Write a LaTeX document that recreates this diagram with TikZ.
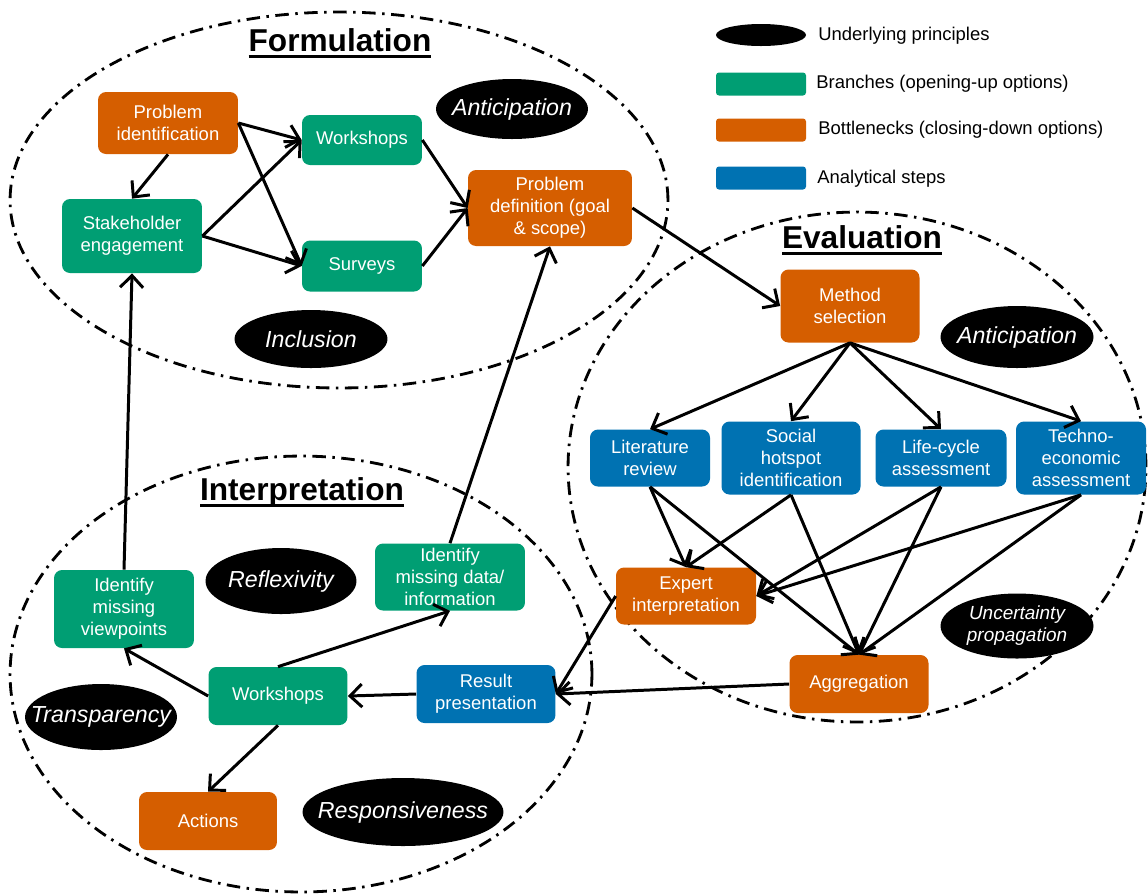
\documentclass[tikz,border=0pt]{standalone}
\usepackage{fontspec}
\setmainfont{Liberation Sans}
\usetikzlibrary{arrows.meta,shapes.geometric}
\definecolor{brgreen}{HTML}{009E73}
\definecolor{bnorange}{HTML}{D55E00}
\definecolor{anblue}{HTML}{0072B2}
\newcommand{\nodefont}{\fontsize{10.5}{12.5}\selectfont}
\newcommand{\prinfont}{\fontsize{13.2}{15}\selectfont\itshape}
\newcommand{\smallprinfont}{\fontsize{10.8}{12.6}\selectfont\itshape}
\newcommand{\titlefont}{\fontsize{18}{20}\selectfont\bfseries}
% thick underline for the phase titles
\newcommand{\thickul}[1]{\setbox0\hbox{#1}\rlap{\rule[-3.6pt]{\wd0}{1.4pt}}\box0}
% text that does not widen its ellipse
\newcommand{\zw}[1]{\makebox[0pt]{#1}}
\tikzset{
  box/.style={rounded corners=0.16cm, text=white, align=center, font=\nodefont, inner sep=1pt},
  gbox/.style={box, fill=brgreen},
  obox/.style={box, fill=bnorange},
  bbox/.style={box, fill=anblue},
  prin/.style={ellipse, fill=black, text=white, font=\prinfont, inner sep=0pt, align=center},
  phase/.style={line width=1.6pt, dash pattern=on 2.7mm off 1.3mm on 0.5mm off 1.3mm},
  link/.style={line width=1.7pt, -{Straight Barb[length=2.4mm,width=4.6mm]}},
  legbox/.style={rounded corners=0.06cm, minimum width=1.8cm, minimum height=0.46cm, inner sep=0pt},
  legtext/.style={anchor=west, font=\nodefont, inner sep=0pt},
  title/.style={font=\titlefont, inner sep=1pt}
}
\begin{document}
\begin{tikzpicture}[x=0.02cm, y=-0.02cm]
\useasboundingbox (0,0) rectangle (1148,894);

% phase boundaries
\draw[phase] (339,200) ellipse [x radius=6.58cm, y radius=3.76cm];
\draw[phase] (857,467) ellipse [x radius=5.78cm, y radius=5.1cm];
\draw[phase] (301,674) ellipse [x radius=5.82cm, y radius=4.36cm];

% titles
\node[title] (tform) at (340,43) {\thickul{Formulation}};
\node[title] (teval) at (862,240) {\thickul{Evaluation}};
\node[title] (tint) at (302,492) {\thickul{Interpretation}};

% Formulation
\node[obox, minimum width=2.8cm, minimum height=1.24cm] (pid) at (168,123) {Problem\\identification};
\node[gbox, minimum width=2.8cm, minimum height=1.48cm] (stk) at (132,236) {Stakeholder\\engagement};
\node[gbox, minimum width=2.4cm, minimum height=1.0cm] (wsf) at (362,140) {Workshops};
\node[gbox, minimum width=2.4cm, minimum height=1.02cm] (sur) at (362,266) {Surveys};
\node[obox, minimum width=3.28cm, minimum height=1.52cm] (pdef) at (550,208) {Problem\\definition (goal\\\& scope)};
\node[prin, minimum width=3.04cm, minimum height=1.2cm] (antf) at (512,109) {\zw{Anticipation}};
\node[prin, minimum width=3.06cm, minimum height=1.16cm] (inc) at (311,339) {\zw{Inclusion}};

% Evaluation
\node[obox, minimum width=2.78cm, minimum height=1.46cm] (meth) at (850,306) {Method\\selection};
\node[prin, minimum width=3.06cm, minimum height=1.24cm] (ante) at (1017,337) {\zw{Anticipation}};
\node[bbox, minimum width=2.4cm, minimum height=1.14cm] (lit) at (650,458) {Literature\\review};
\node[bbox, minimum width=2.78cm, minimum height=1.46cm] (soc) at (791,458) {Social\\hotspot\\identification};
\node[bbox, minimum width=2.62cm, minimum height=1.14cm] (lca) at (941,458) {Life-cycle\\assessment};
\node[bbox, minimum width=2.6cm, minimum height=1.46cm] (tea) at (1081,458) {Techno-\\economic\\assessment};
\node[obox, minimum width=2.8cm, minimum height=1.14cm] (exp) at (686,596) {Expert\\interpretation};
\node[obox, minimum width=2.78cm, minimum height=1.16cm] (agg) at (859,684) {Aggregation};
\node[prin, font=\smallprinfont, minimum width=3.06cm, minimum height=1.3cm] (unc) at (1017,626) {\zw{Uncertainty}\\\zw{propagation}};

% Interpretation
\node[gbox, minimum width=2.8cm, minimum height=1.56cm] (imv) at (124,609) {Identify\\missing\\viewpoints};
\node[prin, minimum width=3.02cm, minimum height=1.32cm] (refl) at (281,581) {\zw{Reflexivity}};
\node[gbox, minimum width=3.0cm, minimum height=1.34cm] (imd) at (450,577) {Identify\\missing data/\\information};
\node[gbox, minimum width=2.78cm, minimum height=1.16cm] (wsi) at (278,696) {Workshops};
\node[bbox, minimum width=2.78cm, minimum height=1.16cm] (res) at (486,694) {Result\\presentation};
\node[prin, minimum width=3.04cm, minimum height=1.32cm] (trans) at (101,717) {\zw{Transparency}};
\node[obox, minimum width=2.76cm, minimum height=1.16cm] (act) at (208,821) {Actions};
\node[prin, minimum width=4.02cm, minimum height=1.36cm] (resp) at (403,812) {\zw{Responsiveness}};

% legend
\node[ellipse, fill=black, minimum width=1.8cm, minimum height=0.44cm, inner sep=0pt] (lgp) at (761,35) {};
\node[legbox, fill=brgreen] (lgg) at (761,84) {};
\node[legbox, fill=bnorange] (lgo) at (761,130) {};
\node[legbox, fill=anblue] (lgb) at (761,178) {};
\node[legtext] (lgpt) at (818,36) {Underlying principles};
\node[legtext] (lggt) at (816,84) {Branches (opening-up options)};
\node[legtext] (lgot) at (818,130) {Bottlenecks (closing-down options)};
\node[legtext] (lgbt) at (817,179) {Analytical steps};

% Formulation links
\draw[link] (pid.east) -- (wsf.west);
\draw[link] (pid.east) -- (sur.west);
\draw[link] (pid.south) -- (stk.north);
\draw[link] (stk.east) -- (wsf.west);
\draw[link] (stk.east) -- (sur.west);
\draw[link] (wsf.east) -- (pdef.west);
\draw[link] (sur.east) -- (pdef.west);
\draw[link] (pdef.east) -- (meth.west);

% feedback from interpretation
\draw[link] (imv.north) -- (stk.south);
\draw[link] (imd.north) -- (pdef.south);

% Evaluation links
\draw[link] (meth.south) -- (lit.north);
\draw[link] (meth.south) -- (soc.north);
\draw[link] (meth.south) -- (lca.north);
\draw[link] (meth.south) -- (tea.north);
\draw[link] (lit.south) -- (exp.north);
\draw[link] (lit.south) -- (agg.north);
\draw[link] (soc.south) -- (exp.north);
\draw[link] (soc.south) -- (agg.north);
\draw[link] (lca.south) -- (exp.east);
\draw[link] (lca.south) -- (agg.north);
\draw[link] (tea.south) -- (exp.east);
\draw[link] (tea.south) -- (agg.north);
\draw[link] (exp.west) -- (res.east);
\draw[link] (agg.west) -- (res.east);

% Interpretation links
\draw[link] (res.west) -- (wsi.east);
\draw[link] (wsi.west) -- (imv.south);
\draw[link] (wsi.north) -- (imd.south);
\draw[link] (wsi.south) -- (act.north);
\end{tikzpicture}
\end{document}
